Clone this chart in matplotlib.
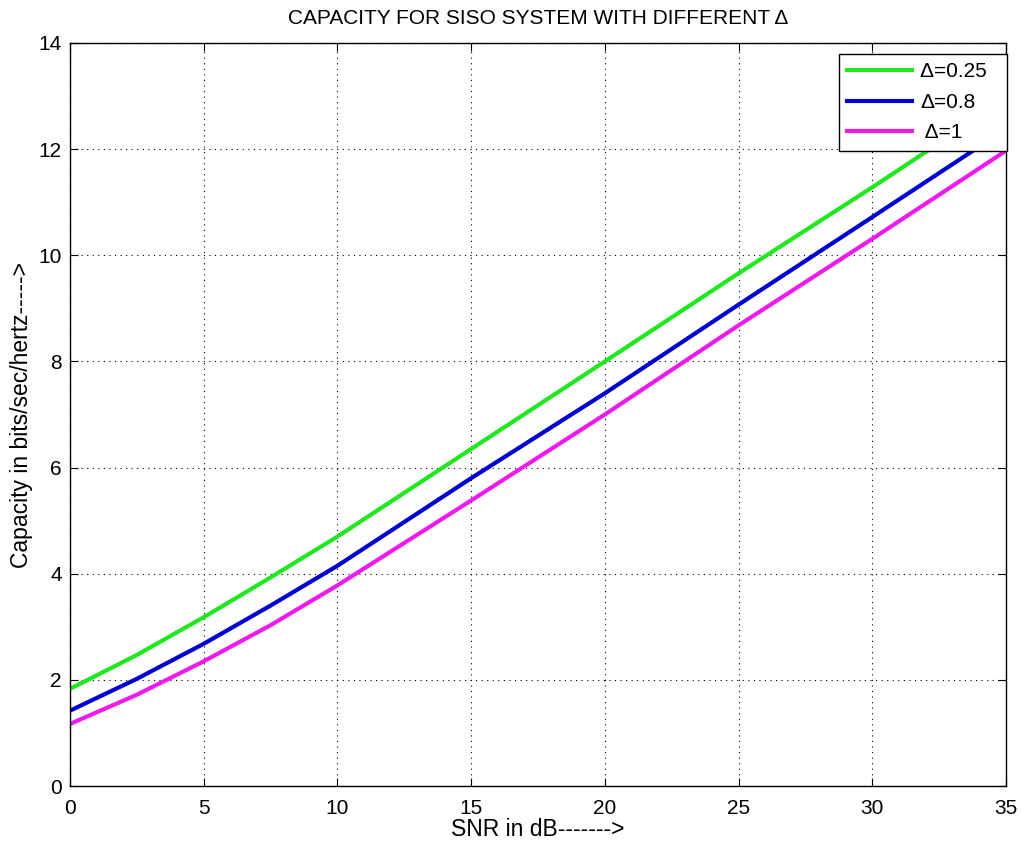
import numpy as np
import matplotlib.pyplot as plt

plt.rcParams['font.family'] = ['Liberation Sans', 'DejaVu Sans']

snr_db = [0, 2.5, 5, 7.5, 10, 15, 20, 25, 30, 35]
cap_025 = [1.83, 2.47, 3.18, 3.93, 4.70, 6.35, 8.00, 9.66, 11.28, 12.95]
cap_08 = [1.42, 2.02, 2.68, 3.40, 4.15, 5.80, 7.40, 9.07, 10.72, 12.38]
cap_1 = [1.17, 1.72, 2.35, 3.03, 3.78, 5.38, 7.00, 8.68, 10.31, 11.97]
labels = ['\u0394=0.25  ', '\u0394=0.8', ' \u0394=1']

fig = plt.figure(figsize=(10.21, 8.43), dpi=100)
ax = fig.add_axes([0.0686, 0.0676, 0.9167, 0.8814])

ax.plot(snr_db, cap_025, color='#1fe81f', lw=3, label=labels[0])
ax.plot(snr_db, cap_08, color='#0000d0', lw=3, label=labels[1])
ax.plot(snr_db, cap_1, color='#ee1aee', lw=3, label=labels[2])

ax.set_xlim(0, 35)
ax.set_ylim(0, 14)
ax.set_xticks(np.arange(0, 36, 5))
ax.set_yticks(np.arange(0, 15, 2))
ax.grid(True, linestyle=(0, (1, 4)), color='black', lw=0.8)
ax.tick_params(direction='in', top=True, right=True, labelsize=15, length=6)
ax.tick_params(axis='x', pad=9)
ax.tick_params(axis='y', pad=6)
for s in ax.spines.values():
    s.set_linewidth(1.0)

ax.set_title('CAPACITY FOR SISO SYSTEM WITH DIFFERENT \u0394', fontsize=15, pad=14)
ax.set_xlabel('SNR in dB------->', fontsize=16.5, labelpad=0)
ax.set_ylabel('Capacity in bits/sec/hertz----->', fontsize=16.5, labelpad=4)

leg = ax.legend(loc='upper right', bbox_to_anchor=(1.001, 0.985), fontsize=15,
                handlelength=3.1, borderaxespad=0, handletextpad=0.4,
                fancybox=False, framealpha=1, edgecolor='black', labelspacing=0.55)
leg.get_frame().set_linewidth(1.0)

fig.savefig('out.png', dpi=100)
